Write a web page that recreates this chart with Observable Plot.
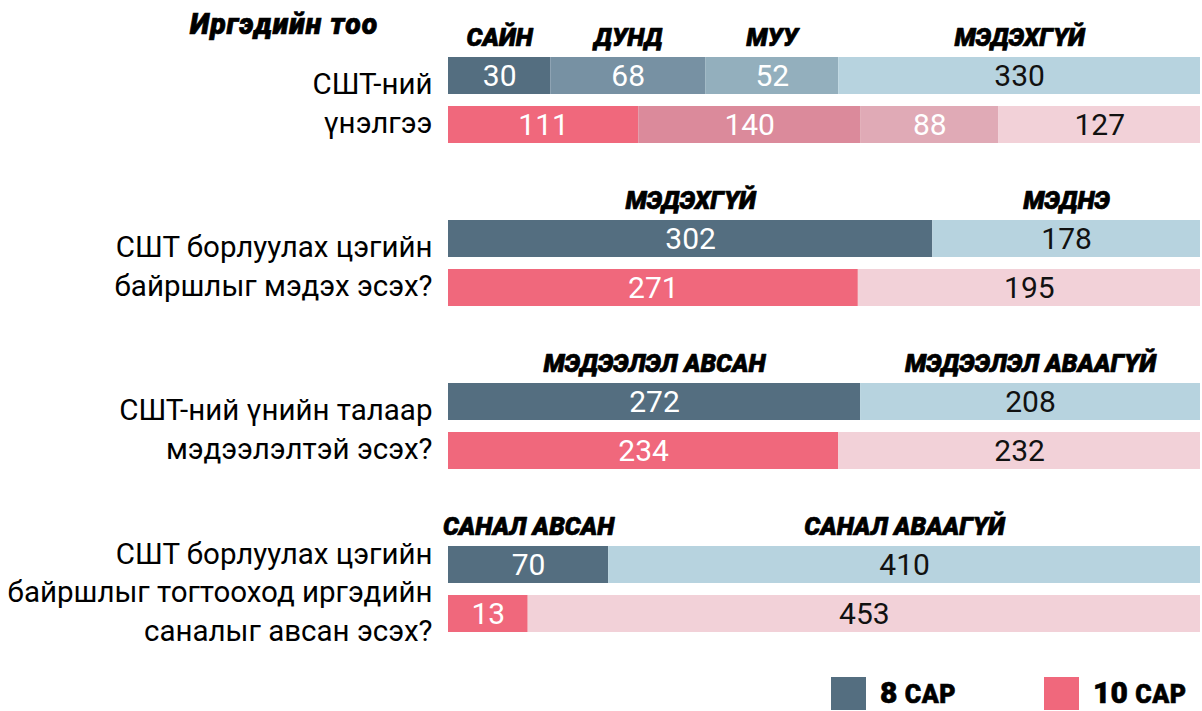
<!DOCTYPE html>
<html>
<head>
<meta charset="utf-8">
<script src="https://cdn.jsdelivr.net/npm/d3@7"></script>
<script src="https://cdn.jsdelivr.net/npm/@observablehq/plot@0.6"></script>
<style>
  html, body { margin: 0; padding: 0; background: #fff; }
  body { width: 1202px; height: 711px; position: relative; overflow: hidden; font-family: Roboto, "Noto Sans", sans-serif; }
  #title { position: absolute; left: 190px; top: 8px; font-size: 28.5px; font-weight: 900; font-style: italic; color: #000; letter-spacing: 1px; -webkit-text-stroke: 0.7px #000; }
  #chart { position: absolute; left: 0; top: 0; }
  #legend { position: absolute; left: 0; top: 677px; width: 1202px; height: 33px; }
  .lg { position: absolute; top: 0; display: flex; align-items: center; height: 33px; }
  .sw { width: 35px; height: 33px; margin-right: 14px; flex: none; }
  .lt { font-weight: 900; color: #000; font-size: 30px; line-height: 30px; -webkit-text-stroke: 0.6px #000; white-space: nowrap; }
  .lt small { font-size: 25px; letter-spacing: 0.5px; }
</style>
</head>
<body>
<div id="title">Иргэдийн тоо</div>
<div id="chart"></div>
<div id="legend"></div>
<script>
// ---- data ----
const questions = [
  "СШТ-ний\nүнэлгээ",
  "СШТ борлуулах цэгийн\nбайршлыг мэдэх эсэх?",
  "СШТ-ний үнийн талаар\nмэдээлэлтэй эсэх?",
  "СШТ борлуулах цэгийн\nбайршлыг тогтооход иргэдийн\nсаналыг авсан эсэх?"
];
const series = ["8 сар", "10 сар"];
const answers = [
  ["САЙН", "ДУНД", "МУУ", "МЭДЭХГҮЙ"],
  ["МЭДЭХГҮЙ", "МЭДНЭ"],
  ["МЭДЭЭЛЭЛ АВСАН", "МЭДЭЭЛЭЛ АВААГҮЙ"],
  ["САНАЛ АВСАН", "САНАЛ АВААГҮЙ"]
];
// displayed counts
const counts8  = [[30, 68, 52, 330], [302, 178], [272, 208], [70, 410]];
const counts10 = [[111, 140, 88, 127], [271, 195], [234, 232], [13, 453]];
// bar lengths as drawn in the picture (percent of the full bar)
const share8  = [[13.6, 20.6, 17.7, 48.1], [64.4, 35.6], [54.8, 45.2], [21.3, 78.7]];
const share10 = [[25.3, 29.5, 18.4, 26.8], [54.5, 45.5], [51.9, 48.1], [10.6, 89.4]];

// ---- palette ----
const pal8_4  = ["#546e80", "#7791a3", "#93afbd", "#b7d3df"];
const pal10_4 = ["#f0687c", "#db8a9b", "#e0aab6", "#f2d1d8"];
const pal8_2  = ["#546e80", "#b7d3df"];
const pal10_2 = ["#f0687c", "#f2d1d8"];

// ---- table ----
const rows = [];
questions.forEach((q, qi) => {
  series.forEach((s, si) => {
    const counts = si === 0 ? counts8[qi] : counts10[qi];
    const shares = si === 0 ? share8[qi] : share10[qi];
    const n = counts.length;
    const pal = n === 4 ? (si === 0 ? pal8_4 : pal10_4) : (si === 0 ? pal8_2 : pal10_2);
    counts.forEach((c, k) => {
      rows.push({
        question: q, series: s, answer: answers[qi][k],
        count: c, share: shares[k],
        color: pal[k], textColor: k === n - 1 ? "#111" : "#fff"
      });
    });
  });
});
const headerRows = rows.filter(d => d.series === series[0]);

const chart = Plot.plot({
  width: 1202,
  height: 660,
  marginLeft: 448,
  marginRight: 2,
  marginTop: 49,
  marginBottom: 19,
  style: { fontFamily: "Roboto, 'Noto Sans', sans-serif", background: "transparent" },
  x: { domain: [0, 100], axis: null },
  y: { domain: series, paddingInner: 0.24, paddingOuter: 0.12, axis: null },
  fy: { domain: questions, paddingInner: 0.39, paddingOuter: 0, axis: null },
  color: { type: "identity" },
  marks: [
    Plot.barX(rows, Plot.stackX({
      x: "share", y: "series", fy: "question", fill: "color"
    })),
    Plot.text(rows, Plot.stackX({
      x: "share", y: "series", fy: "question",
      text: d => String(d.count), fill: "textColor",
      fontSize: 30
    })),
    Plot.text(headerRows, Plot.stackX({
      x: "share", y: "series", fy: "question",
      text: "answer", fill: "#000", stroke: "#000", strokeWidth: 0.7,
      fontSize: 25, fontWeight: 900, fontStyle: "italic", dy: -38
    })),
    Plot.text(questions, {
      fy: d => d, text: d => d, frameAnchor: "left", textAnchor: "end",
      dx: -16, fontSize: 29.5, lineHeight: 1.32, fill: "#000"
    })
  ]
});
document.getElementById("chart").appendChild(chart);

// ---- legend ----
const legendItems = [
  { num: "8", word: "САР", color: pal8_2[0], left: 831 },
  { num: "10", word: "САР", color: pal10_2[0], left: 1044 }
];
const lg = document.getElementById("legend");
legendItems.forEach(it => {
  const div = document.createElement("div");
  div.className = "lg";
  div.style.left = it.left + "px";
  div.innerHTML = `<div class="sw" style="background:${it.color}"></div><span class="lt">${it.num} <small>${it.word}</small></span>`;
  lg.appendChild(div);
});
</script>
</body>
</html>
